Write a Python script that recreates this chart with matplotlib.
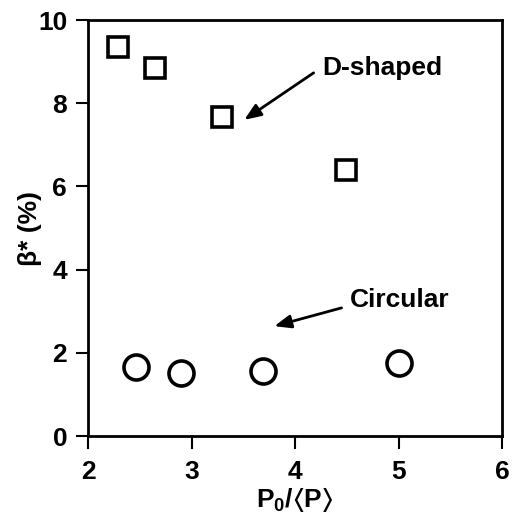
import matplotlib
matplotlib.use("Agg")
import matplotlib.pyplot as plt

# Data
dshaped_x = [2.29, 2.65, 3.29, 4.49]
dshaped_y = [9.35, 8.85, 7.67, 6.39]
circular_x = [2.46, 2.90, 3.69, 5.00]
circular_y = [1.66, 1.51, 1.56, 1.75]
xticks = [2, 3, 4, 5, 6]
yticks = [0, 2, 4, 6, 8, 10]

FONT = ['Liberation Sans', 'DejaVu Sans']
plt.rcParams['font.family'] = FONT
plt.rcParams['font.weight'] = 'bold'
plt.rcParams['mathtext.fontset'] = 'custom'
plt.rcParams['mathtext.rm'] = 'Liberation Sans:bold'
plt.rcParams['mathtext.bf'] = 'Liberation Sans:bold'
plt.rcParams['mathtext.it'] = 'Liberation Sans:bold'
plt.rcParams['mathtext.fallback'] = 'stixsans'

fig = plt.figure(figsize=(5.16, 5.21), dpi=100)
ax = fig.add_axes([88/516, 1-436/521, (502-88)/516, (436-20)/521])

ax.plot(dshaped_x, dshaped_y, linestyle='none', marker='s', markersize=15,
        markerfacecolor='white', markeredgecolor='black', markeredgewidth=2.6)
ax.plot(circular_x, circular_y, linestyle='none', marker='o', markersize=18,
        markerfacecolor='white', markeredgecolor='black', markeredgewidth=2.6)

ax.set_xlim(2, 6)
ax.set_ylim(0, 10)
ax.set_xticks(xticks)
ax.set_yticks(yticks)
ax.tick_params(direction='out', length=9, width=1.5, labelsize=19)
ax.tick_params(axis='x', pad=8)
ax.tick_params(axis='y', pad=6)
for lab in ax.get_xticklabels() + ax.get_yticklabels():
    lab.set_fontweight('bold')
for s in ax.spines.values():
    s.set_linewidth(2)

ax.set_xlabel(r'P$_0$/$\langle$P$\rangle$', fontsize=19, fontweight='bold', labelpad=2)
ax.set_ylabel('β* (%)', fontsize=19, fontweight='bold')
ax.yaxis.set_label_coords(-0.11, 0.5)

ax.text(4.26, 8.85, 'D-shaped', fontsize=19, fontweight='bold', va='center', ha='left')
ax.text(4.53, 3.27, 'Circular', fontsize=19, fontweight='bold', va='center', ha='left')
arrow = dict(arrowstyle='-|>,head_length=1.0,head_width=0.4', color='black',
             lw=2.0, shrinkA=0, shrinkB=0)
ax.annotate('', xy=(3.51, 7.60), xytext=(4.18, 8.73), arrowprops=arrow)
ax.annotate('', xy=(3.80, 2.64), xytext=(4.45, 3.08), arrowprops=arrow)

fig.savefig('out.png', dpi=100)
